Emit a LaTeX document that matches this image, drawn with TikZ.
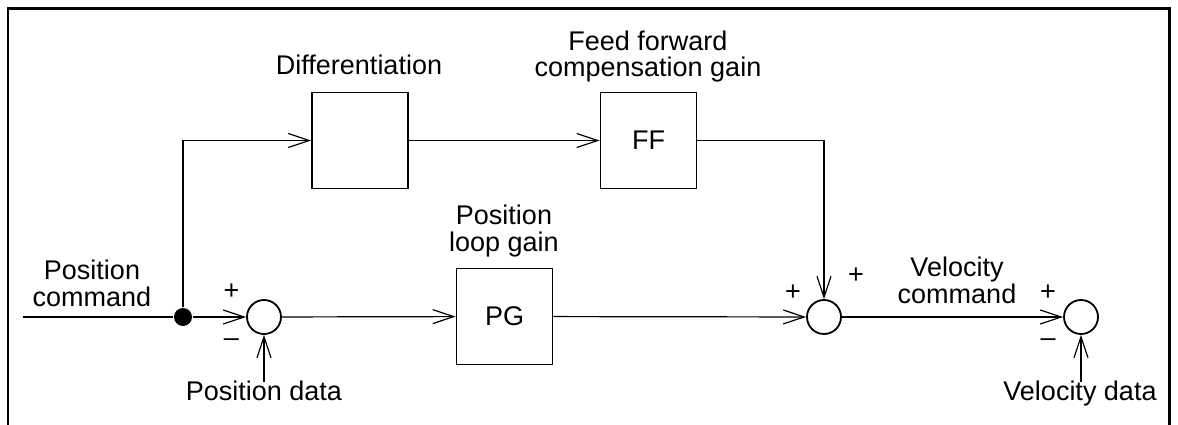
\documentclass[tikz,border=0pt]{standalone}
\usepackage{fontspec}
\setmainfont{Liberation Sans}
\usetikzlibrary{arrows.meta}
\begin{document}
\begin{tikzpicture}[x=1pt,y=-1pt,
  >={Straight Barb[length=21pt,width=14pt]},
  line width=1.2pt,
  blockbox/.style={draw,line width=1.8pt,minimum width=96pt,minimum height=96pt,inner sep=0pt},
  sumc/.style={draw,circle,line width=1.8pt,minimum size=34pt,inner sep=0pt},
  dotn/.style={circle,fill,minimum size=18pt,inner sep=0pt},
  lbl/.style={font=\fontsize{27}{26.5}\selectfont,align=center,inner sep=0pt,anchor=base},
  sign/.style={font=\fontsize{27}{26.5}\selectfont,inner sep=0pt,anchor=base}]
\useasboundingbox (0,0) rectangle (1178,425);
% frame
\draw[line width=2.5pt] (8,430) -- (8,8.7) -- (1169.5,8.7) -- (1169.5,430);
% blocks
\node[blockbox] (diff) at (360,140.5) {};
\node[blockbox] (ff) at (648.5,140.5) {\fontsize{27}{27}\selectfont FF};
\node[blockbox] (pg) at (504.5,316.5) {\fontsize{27}{27}\selectfont PG};
\node[sumc] (s1) at (264,317) {};
\node[sumc] (s2) at (824,317) {};
\node[sumc] (s3) at (1081,317) {};
\node[dotn] (dot) at (183,317) {};
\coordinate (in) at (23,317);
\coordinate (pd) at (264,382);
\coordinate (vd) at (1081,382);
% labels (base = baseline of last line)
\node[lbl] (lpc) at (92,306) {Position\\command};
\node[lbl] (ldiff) at (359,75) {Differentiation};
\node[lbl] (lff) at (648,77) {Feed forward\\compensation gain};
\node[lbl] (lpg) at (504,251) {Position\\loop gain};
\node[lbl] (lvc) at (957,303) {Velocity\\command};
\node[lbl] (lpd) at (264,400) {Position data};
\node[lbl] (lvd) at (1080,400) {Velocity data};
% signs
\node[sign] (p1) at (231.5,299.5) {+};
\node[sign] (m1) at (231.5,346) {–};
\node[sign] (p2) at (793,300) {+};
\node[sign] (p3) at (856,283) {+};
\node[sign] (p4) at (1048,300) {+};
\node[sign] (m4) at (1048,346) {–};
% connectors
\draw (in) -- (dot);
\draw[->] (dot) -- (s1);
\draw[->] (dot.north) |- (diff.west);
\draw[->] (diff) -- (ff);
\draw[->] (s1) -- (pg);
\draw[->] (pg) -- (s2);
\draw[->] (ff.east) -| (s2.north);
\draw[->] (s2) -- (s3);
\draw[->] (pd) -- (s1.south);
\draw[->] (vd) -- (s3.south);
\end{tikzpicture}
\end{document}
